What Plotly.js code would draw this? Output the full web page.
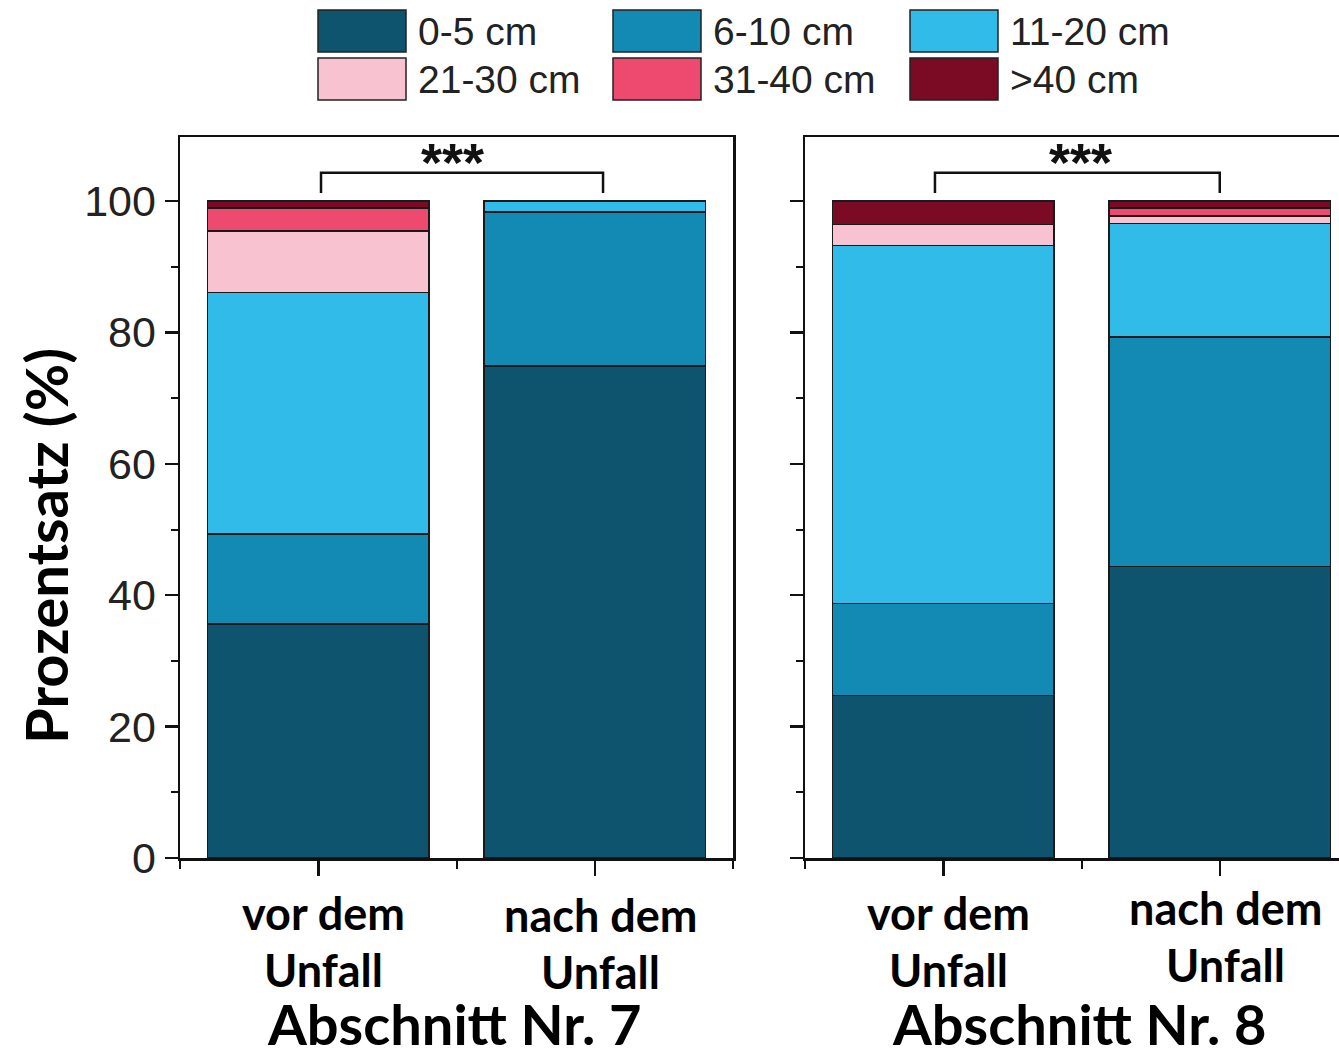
<!DOCTYPE html>
<html>
<head>
<meta charset="utf-8">
<script src="https://cdn.plot.ly/plotly-3.0.1.min.js"></script>
<style>html,body{margin:0;padding:0;background:#fff;}</style>
</head>
<body>
<div id="chart" style="width:1339px;height:1057px;"></div>
<script>
// ---- data ----
const groups = ["Abschnitt Nr. 7", "Abschnitt Nr. 8"];
const categories = ["vor dem Unfall", "nach dem Unfall"];
const categoryLines = [["vor dem", "Unfall"], ["nach dem", "Unfall"]];
const sizeClasses = ["0-5 cm", "6-10 cm", "11-20 cm", "21-30 cm", "31-40 cm", ">40 cm"];
const colors = ["#0f546f", "#138ab4", "#31bbe8", "#f8c2d0", "#ee4a70", "#7b0b25"];
const abschnitt7_vor  = [35.6, 13.7, 36.8, 9.3, 3.5, 1.1];
const abschnitt7_nach = [74.9, 23.4, 1.7, 0, 0, 0];
const abschnitt8_vor  = [24.7, 14.0, 54.5, 3.2, 0, 3.6];
const abschnitt8_nach = [44.4, 34.9, 17.3, 1.1, 1.2, 1.1];
const significance = ["***", "***"];
const yTicks = [0, 20, 40, 60, 80, 100];

// ---- geometry helpers ----
const W = 1339, H = 1057;
const mL = 180, mR = 0, mT = 137, mB = 199;
const pw = W - mL - mR, ph = H - mT - mB;
const px = v => (v - mL) / pw;          // pixel x -> paper
const py = v => (H - mB - v) / ph;       // pixel y -> paper
const xPos = categories.map((c, i) => i);

const traces = [];
const series = [[abschnitt7_vor, abschnitt7_nach], [abschnitt8_vor, abschnitt8_nach]];
series.forEach((grp, g) => {
  sizeClasses.forEach((name, i) => {
    traces.push({
      type: "bar",
      name: name,
      x: xPos,
      y: grp.map(arr => arr[i]),
      width: 0.8,
      xaxis: g === 0 ? "x" : "x2",
      yaxis: g === 0 ? "y" : "y2",
      marker: {color: colors[i], line: {color: "#1a1a1a", width: 1.5}},
      showlegend: false,
      hoverinfo: "name+y"
    });
  });
});

const axisCommon = {
  showline: true, linecolor: "#111", linewidth: 2.5,
  showgrid: false, zeroline: false,
  ticks: "outside", tickcolor: "#111", tickwidth: 2.5
};

const layout = {
  width: W, height: H,
  margin: {l: mL, r: mR, t: mT, b: mB},
  paper_bgcolor: "#fff", plot_bgcolor: "#fff",
  barmode: "stack",
  showlegend: false,
  font: {family: "Liberation Sans, Arial, sans-serif", color: "#111"},
  xaxis: Object.assign({}, axisCommon, {
    domain: [0, 553 / pw], range: [-0.5, 1.5], mirror: true,
    tickvals: xPos, ticktext: xPos.map(() => ""), ticklen: 15,
    minor: {tickvals: [-0.5, 0.5, 1.5], ticks: "outside", ticklen: 8, tickwidth: 2, tickcolor: "#111"}
  }),
  xaxis2: Object.assign({}, axisCommon, {
    domain: [625 / pw, 1], range: [-0.5, 1.5 - (553 - 534) / 276.5], mirror: true, anchor: "y2",
    tickvals: xPos, ticktext: xPos.map(() => ""), ticklen: 15,
    minor: {tickvals: [-0.5, 0.5], ticks: "outside", ticklen: 8, tickwidth: 2, tickcolor: "#111"}
  }),
  yaxis: Object.assign({}, axisCommon, {
    range: [0, 100 * ph / 657], mirror: true, anchor: "x",
    tickvals: yTicks, ticklen: 13,
    tickfont: {family: "Liberation Sans, Arial, sans-serif", size: 43, color: "#222"},
    minor: {dtick: 10, ticks: "outside", ticklen: 7, tickwidth: 2, tickcolor: "#111"}
  }),
  yaxis2: Object.assign({}, axisCommon, {
    range: [0, 100 * ph / 657], mirror: false, anchor: "x2",
    tickvals: yTicks, ticklen: 13, showticklabels: false,
    minor: {dtick: 10, ticks: "outside", ticklen: 7, tickwidth: 2, tickcolor: "#111"}
  }),
  shapes: [],
  annotations: []
};

// legend (manual, 3 columns x 2 rows)
const legX = [318, 613, 910];
const legY = [10, 58];
sizeClasses.forEach((name, i) => {
  const col = i % 3, row = Math.floor(i / 3);
  const x0 = legX[col], y0 = legY[row];
  layout.shapes.push({
    type: "rect", xref: "paper", yref: "paper",
    x0: px(x0), x1: px(x0 + 88), y0: py(y0), y1: py(y0 + 42),
    fillcolor: colors[i], line: {color: "#222", width: 1.5}
  });
  layout.annotations.push({
    xref: "paper", yref: "paper", x: px(x0 + 98), y: py(y0 + 21),
    xanchor: "left", yanchor: "middle", showarrow: false, text: name,
    font: {family: "Liberation Sans, Arial, sans-serif", size: 39, color: "#222"}
  });
});

// significance brackets
const bracket = [[0.01, 1.03], [-0.03, 1.0]];
const starX = [0.487, 0.495];
["x", "x2"].forEach((xr, g) => {
  const yr = g === 0 ? "y" : "y2";
  const [a, b] = bracket[g];
  layout.shapes.push({
    type: "path", xref: xr, yref: yr,
    path: `M ${a},101.2 L ${a},104.3 L ${b},104.3 L ${b},101.2`,
    line: {color: "#111", width: 2.5}
  });
  layout.annotations.push({
    xref: xr, yref: yr, x: starX[g], y: 105.9, xanchor: "center", yanchor: "middle",
    showarrow: false, text: "<b>" + significance[g] + "</b>",
    font: {family: "Liberation Sans, Arial, sans-serif", size: 54, color: "#111"}
  });
});

// category labels
const catLineY = [[[913, 970], [915, 972]], [[913, 970], [908, 965]]];
["x", "x2"].forEach((xr, g) => {
  categoryLines.forEach((lines, c) => {
    lines.forEach((ln, k) => {
      layout.annotations.push({
        xref: xr, yref: "paper", x: xPos[c] + 0.02, y: py(catLineY[g][c][k]),
        xanchor: "center", yanchor: "middle", showarrow: false,
        text: "<b>" + ln + "</b>",
        font: {family: "Lato, Noto Sans, sans-serif", size: 45, color: "#000"}
      });
    });
  });
  layout.annotations.push({
    xref: xr, yref: "paper", x: 0.49, y: py(1024),
    xanchor: "center", yanchor: "middle", showarrow: false,
    text: "<b>" + groups[g] + "</b>",
    font: {family: "Lato, Noto Sans, sans-serif", size: 56, color: "#000"}
  });
});

// y-axis title
layout.annotations.push({
  xref: "paper", yref: "paper", x: px(45), y: py(546),
  xanchor: "center", yanchor: "middle", showarrow: false, textangle: -90,
  text: "<b>Prozentsatz (%)</b>",
  font: {family: "Lato, Noto Sans, sans-serif", size: 58, color: "#000"}
});

Plotly.newPlot("chart", traces, layout, {staticPlot: true, displayModeBar: false});
</script>
</body>
</html>
